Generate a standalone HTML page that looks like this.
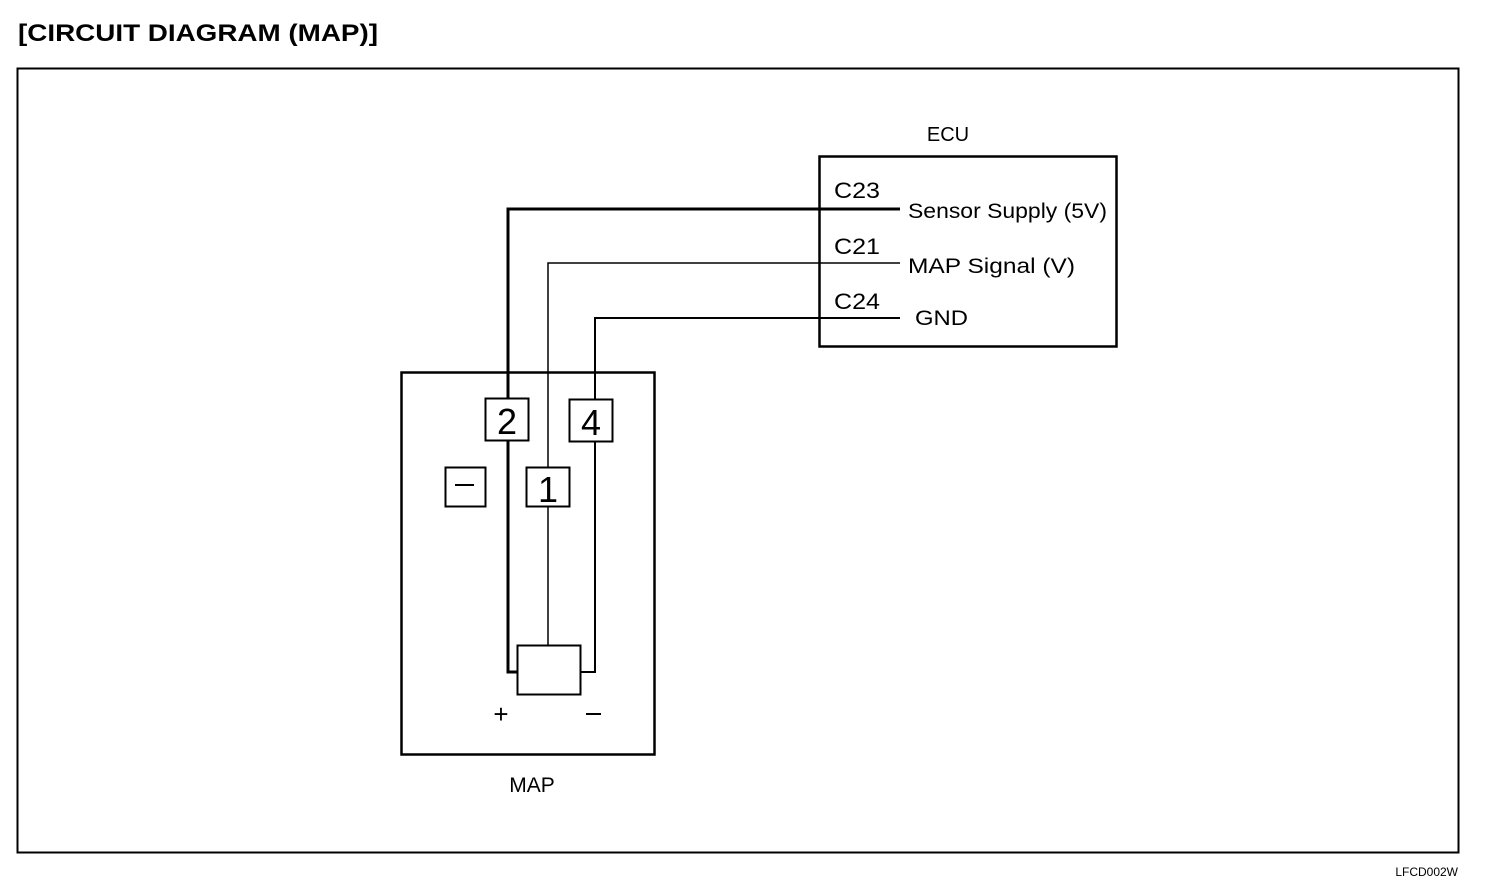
<!DOCTYPE html>
<html><head><style>body{margin:0;background:#fff}svg{display:block}</style></head><body>
<svg width="1504" height="890" xmlns="http://www.w3.org/2000/svg" font-family="Liberation Sans, sans-serif">
<rect width="1504" height="890" fill="#fff"/>
<text x="18" y="41" font-size="24" font-weight="bold" textLength="360" lengthAdjust="spacingAndGlyphs">[CIRCUIT  DIAGRAM  (MAP)]</text>
<rect x="17.5" y="68.5" width="1441" height="784" fill="none" stroke="#000" stroke-width="2"/>
<text x="1458" y="876" font-size="12" text-anchor="end">LFCD002W</text>
<!-- ECU -->
<text x="948" y="141" font-size="20" text-anchor="middle">ECU</text>
<rect x="819.5" y="156.5" width="297" height="190" fill="none" stroke="#000" stroke-width="2.5"/>
<text x="834" y="198" font-size="22" textLength="46" lengthAdjust="spacingAndGlyphs">C23</text>
<text x="834" y="254" font-size="22" textLength="46" lengthAdjust="spacingAndGlyphs">C21</text>
<text x="834" y="309" font-size="22" textLength="46" lengthAdjust="spacingAndGlyphs">C24</text>
<text x="908" y="218" font-size="21" textLength="199" lengthAdjust="spacingAndGlyphs">Sensor Supply (5V)</text>
<text x="908" y="273" font-size="21" textLength="167" lengthAdjust="spacingAndGlyphs">MAP Signal (V)</text>
<text x="915" y="325" font-size="21" textLength="53" lengthAdjust="spacingAndGlyphs">GND</text>
<!-- wires -->
<polyline points="900,209 508,209 508,672 518,672" fill="none" stroke="#000" stroke-width="3"/>
<polyline points="900,263 548,263 548,646" fill="none" stroke="#000" stroke-width="1.5"/>
<polyline points="900,318 595,318 595,672 581,672" fill="none" stroke="#000" stroke-width="2"/>
<!-- MAP box -->
<rect x="401.5" y="372.5" width="253" height="382" fill="none" stroke="#000" stroke-width="2.5"/>
<rect x="485.5" y="398.5" width="43" height="42" fill="#fff" stroke="#000" stroke-width="2"/>
<text x="507" y="434" font-size="36" text-anchor="middle">2</text>
<rect x="569.5" y="399.5" width="43" height="42" fill="#fff" stroke="#000" stroke-width="2"/>
<text x="591" y="435" font-size="36" text-anchor="middle">4</text>
<rect x="445.5" y="467.5" width="40" height="39" fill="#fff" stroke="#000" stroke-width="2"/>
<line x1="455" y1="485" x2="474" y2="485" stroke="#000" stroke-width="2"/>
<rect x="526.5" y="467.5" width="43" height="39" fill="#fff" stroke="#000" stroke-width="2"/>
<text x="548" y="502" font-size="36" text-anchor="middle">1</text>
<rect x="517.5" y="645.5" width="63" height="49" fill="#fff" stroke="#000" stroke-width="2"/>
<text x="501" y="723" font-size="26" text-anchor="middle">+</text>
<line x1="586" y1="714" x2="601" y2="714" stroke="#000" stroke-width="2"/>
<text x="532" y="792" font-size="21" text-anchor="middle">MAP</text>
</svg>
</body></html>
